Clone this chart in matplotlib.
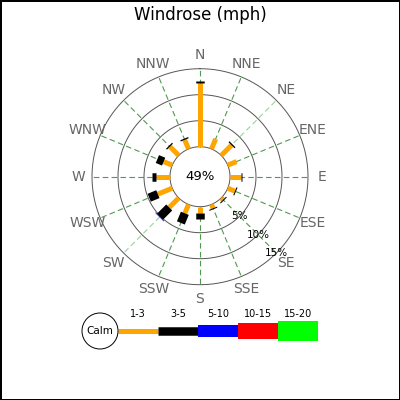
import numpy as np
import matplotlib
matplotlib.use('Agg')
import matplotlib.pyplot as plt
from matplotlib.patches import Circle

# Wind directions (compass order, clockwise from north)
directions = ['N', 'NNE', 'NE', 'ENE', 'E', 'ESE', 'SE', 'SSE',
              'S', 'SSW', 'SW', 'WSW', 'W', 'WNW', 'NW', 'NNW']

# Percent of time in each speed band (mph)
speed_1_3 = [12.3, 2.1, 2.8, 1.85, 2.05, 1.5, 0.5, 0.8, 1.2, 1.85, 2.6, 3.0, 2.6, 1.8, 2.4, 1.9]
speed_3_5 = [0.35, 0.0, 0.25, 0.0, 0.2, 0.2, 0.2, 0.2, 1.2, 2.0, 2.5, 1.8, 0.8, 1.3, 0.25, 0.25]
speed_5_10 = [0, 0, 0, 0, 0, 0, 0, 0, 0, 0, 0.15, 0, 0, 0, 0, 0]
speed_10_15 = [0] * 16
speed_15_20 = [0] * 16

band_labels = ['1-3', '3-5', '5-10', '10-15', '15-20']
band_colors = ['#ffa500', '#000000', '#0000ff', '#ff0000', '#00ff00']
band_widths_px = [5, 8.5, 12, 16, 20]

calm_pct = 49
circle_ticks = [5, 10, 15]

pt = 72 / 100  # px -> points at dpi 100

fig = plt.figure(figsize=(4, 4), dpi=100, facecolor='white',
                 edgecolor='black', linewidth=1)

# title
fig.text(0.5, 1 - 15 / 400, 'Windrose (mph)', ha='center', va='center', fontsize=12)

# polar axes for the rose: center (200, 176.7) px, calm radius 30 px, outer 108 px
cx, cy, r_in, r_out = 200, 176.7, 30, 108
ax = fig.add_axes([(cx - r_out) / 400, (400 - cy - r_out) / 400, 2 * r_out / 400, 2 * r_out / 400],
                  projection='polar')
ax.set_theta_zero_location('N')
ax.set_theta_direction(-1)
rmax = circle_ticks[-1]
ax.set_ylim(0, rmax)
ax.set_rorigin(-rmax * r_in / (r_out - r_in))
ax.axis('off')

theta = np.deg2rad(np.arange(16) * 22.5)
full = np.linspace(0, 2 * np.pi, 400)

# direction grid lines
for i, t in enumerate(theta):
    col = '#9fcf9f' if directions[i] in ('NE', 'SW') else '#4f9a4f'
    ax.plot([t, t], [0, rmax], color=col, lw=0.8, ls=(0, (5, 3)), clip_on=False, zorder=1)

# range circles
for r in [0] + circle_ticks:
    ax.plot(full, np.full_like(full, r), color='#555555', lw=0.7, clip_on=False, zorder=2)

# percent labels along SE
for r in circle_ticks:
    ax.text(np.deg2rad(135), r, f'{r}%', ha='center', va='center', fontsize=7.5,
            clip_on=False, zorder=5)

# compass labels
for t, d in zip(theta, directions):
    ax.text(t, 17.7, d, ha='center', va='center', fontsize=10, color='#666666', clip_on=False)

# stacked bars
bands = [speed_1_3, speed_3_5, speed_5_10, speed_10_15, speed_15_20]
start = np.zeros(16)
for vals, col, w in zip(bands, band_colors, band_widths_px):
    vals = np.array(vals, dtype=float)
    for i in range(16):
        if vals[i] > 0:
            ax.plot([theta[i], theta[i]], [start[i], start[i] + vals[i]], color=col,
                    lw=w * pt, solid_capstyle='butt', clip_on=False, zorder=3)
    start += vals

ax.text(0.5, 0.5, f'{calm_pct}%', transform=ax.transAxes, ha='center', va='center', fontsize=9.5)

# legend
lg = fig.add_axes([0, 0, 1, 1], zorder=-1)
lg.set_xlim(0, 400)
lg.set_ylim(400, 0)
lg.axis('off')
ly = 331
lg.add_patch(Circle((100, ly), 18, facecolor='white', edgecolor='black', lw=0.7, zorder=3))
lg.text(100, ly, 'Calm', ha='center', va='center', fontsize=7.5, zorder=4)
x0 = 118
for lab, col, w in zip(band_labels, band_colors, band_widths_px):
    lg.plot([x0, x0 + 40], [ly, ly], color=col, lw=w * pt, solid_capstyle='butt')
    lg.text(x0 + 20, 314, lab, ha='center', va='center', fontsize=7)
    x0 += 40

fig.savefig('out.png', dpi=100)
